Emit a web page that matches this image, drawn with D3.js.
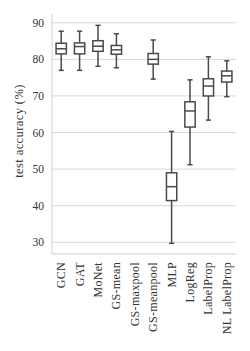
<!DOCTYPE html>
<html>
<head>
<meta charset="utf-8">
<script src="https://d3js.org/d3.v7.min.js"></script>
<style>
  body { margin: 0; background: #fff; }
  svg { display: block; }
  text { font-family: "Liberation Serif", "DejaVu Serif", serif; fill: #333; }
</style>
</head>
<body>
<svg width="250" height="351"></svg>
<script>
// box stats: [low whisker, Q1, median, Q3, high whisker]
const models = ["GCN", "GAT", "MoNet", "GS-mean", "GS-maxpool", "GS-meanpool",
                "MLP", "LogReg", "LabelProp", "NL LabelProp"];
const lowWhisker = [77.0, 77.0, 78.1, 77.7, null, 74.6, 29.7, 51.2, 63.4, 69.8];
const q1         = [81.5, 81.5, 82.2, 81.4, null, 78.7, 41.4, 61.5, 70.0, 73.8];
const median     = [82.9, 83.5, 83.6, 82.6, null, 80.0, 45.2, 65.9, 72.7, 75.5];
const q3         = [84.4, 84.5, 85.1, 83.8, null, 81.6, 49.0, 68.4, 74.7, 76.8];
const highWhisker= [87.7, 87.7, 89.3, 87.0, null, 85.3, 60.3, 74.4, 80.7, 79.6];
const yTicks = [30, 40, 50, 60, 70, 80, 90];

const svg = d3.select("svg");
const plotLeft = 52, plotRight = 236, plotTop = 14, plotBottom = 254;

const x = d3.scaleBand().domain(models).range([plotLeft, plotRight]);
const y = d3.scaleLinear().domain([26.8, 92.4]).range([plotBottom, plotTop]);

const boxes = models.map((m, i) => ({
  name: m, lo: lowWhisker[i], q1: q1[i], med: median[i], q3: q3[i], hi: highWhisker[i]
})).filter(d => d.med !== null);

// grid
svg.append("g").selectAll("line").data(yTicks).enter().append("line")
  .attr("x1", plotLeft).attr("x2", plotRight)
  .attr("y1", d => y(d)).attr("y2", d => y(d))
  .attr("stroke", "#d8d8d8").attr("stroke-width", 1);

// spines
svg.append("line").attr("x1", plotLeft).attr("x2", plotLeft).attr("y1", plotTop).attr("y2", plotBottom)
  .attr("stroke", "#d0d0d0").attr("stroke-width", 1);
svg.append("line").attr("x1", plotLeft).attr("x2", plotRight).attr("y1", plotBottom).attr("y2", plotBottom)
  .attr("stroke", "#d0d0d0").attr("stroke-width", 1);

// y tick labels
svg.append("g").selectAll("text").data(yTicks).enter().append("text")
  .attr("x", plotLeft - 8).attr("y", d => y(d)).attr("dy", "0.35em")
  .attr("text-anchor", "end").attr("font-size", 11.5)
  .text(d => d);

// y label
svg.append("text")
  .attr("transform", `translate(23,131) rotate(-90)`)
  .attr("text-anchor", "middle").attr("font-size", 12.5)
  .attr("letter-spacing", 0.4)
  .text("test accuracy (%)");

// x labels
svg.append("g").selectAll("text").data(models).enter().append("text")
  .attr("transform", d => `translate(${x(d) + x.bandwidth() / 2 + 4},${plotBottom + 8}) rotate(-90)`)
  .attr("text-anchor", "end").attr("font-size", 12)
  .attr("letter-spacing", 0.3)
  .text(d => d);

// boxes
const bw = x.bandwidth() * 0.56;
const cap = bw / 2;
const stroke = "#4a4a4a", sw = 1.5;
const g = svg.append("g").selectAll("g").data(boxes).enter().append("g")
  .attr("transform", d => `translate(${x(d.name) + x.bandwidth() / 2},0)`);

g.append("line").attr("x1", 0).attr("x2", 0)
  .attr("y1", d => y(d.hi)).attr("y2", d => y(d.q3))
  .attr("stroke", stroke).attr("stroke-width", sw);
g.append("line").attr("x1", 0).attr("x2", 0)
  .attr("y1", d => y(d.q1)).attr("y2", d => y(d.lo))
  .attr("stroke", stroke).attr("stroke-width", sw);
g.append("line").attr("x1", -cap / 2).attr("x2", cap / 2)
  .attr("y1", d => y(d.hi)).attr("y2", d => y(d.hi))
  .attr("stroke", stroke).attr("stroke-width", sw);
g.append("line").attr("x1", -cap / 2).attr("x2", cap / 2)
  .attr("y1", d => y(d.lo)).attr("y2", d => y(d.lo))
  .attr("stroke", stroke).attr("stroke-width", sw);
g.append("rect").attr("x", -bw / 2).attr("width", bw)
  .attr("y", d => y(d.q3)).attr("height", d => y(d.q1) - y(d.q3))
  .attr("fill", "#fff").attr("stroke", stroke).attr("stroke-width", sw);
g.append("line").attr("x1", -bw / 2).attr("x2", bw / 2)
  .attr("y1", d => y(d.med)).attr("y2", d => y(d.med))
  .attr("stroke", stroke).attr("stroke-width", sw);
</script>
</body>
</html>
